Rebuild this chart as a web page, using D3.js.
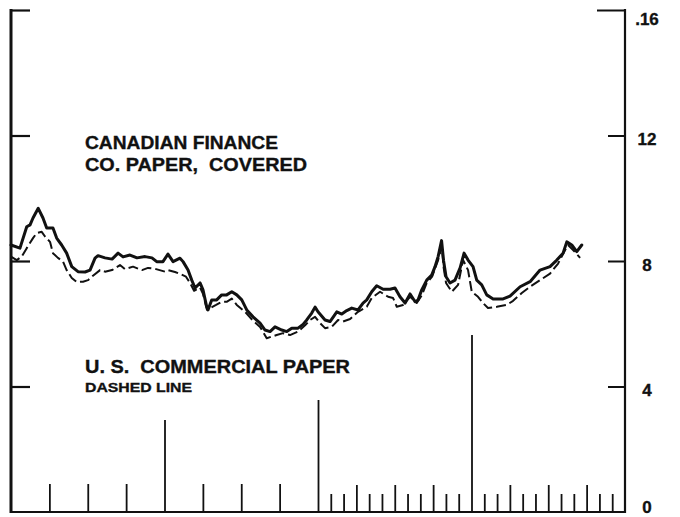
<!DOCTYPE html>
<html>
<head>
<meta charset="utf-8">
<script src="https://cdn.jsdelivr.net/npm/d3@7/dist/d3.min.js"></script>
<style>
  html, body { margin: 0; padding: 0; background: #fff; }
  svg { display: block; }
  text { font-family: "Liberation Sans", Arial, sans-serif; font-weight: bold; fill: #111; stroke: #111; stroke-width: 0.35px; }
</style>
</head>
<body>
<svg id="chart" width="680" height="517"></svg>
<script>
// ---- DATA (time in months from start of chart, rate in percent) ----
const canadianMonths = [0,0.70,1.23,1.49,1.72,2.13,2.50,2.79,3.28,3.57,3.96,4.35,4.75,5.24,5.79,6.18,6.57,6.80,7.35,7.90,8.37,8.76,9.30,9.85,10.48,11.02,11.39,11.88,12.27,12.67,13.21,13.45,13.84,14.13,14.39,14.78,15.01,15.30,15.40,15.69,16.08,16.47,16.86,17.26,17.65,18.04,18.43,18.92,19.47,19.86,20.25,20.64,21.17,21.56,21.95,22.44,22.83,23.12,23.51,23.77,24.00,24.55,24.94,25.47,25.86,26.25,26.64,27.13,27.52,27.81,28.20,28.59,29.09,29.63,30.02,30.41,30.81,31.20,31.59,31.82,32.11,32.50,32.89,33.15,33.39,33.66,33.82,34.01,34.32,34.71,35.11,35.42,35.73,36.12,36.41,36.80,37.19,37.69,38.47,39.01,39.80,40.58,41.36,42.14,42.67,43.16,43.45,43.84,44.23,44.62];
const canadianRates  = [8.51,8.41,9.09,9.15,9.37,9.68,9.37,9.05,9.05,8.73,8.51,8.25,7.82,7.66,7.65,7.71,8.09,8.17,8.10,8.06,8.25,8.13,8.19,8.10,8.14,8.10,7.98,7.98,8.22,7.98,8.09,7.98,7.71,7.39,7.14,7.30,7.08,6.54,6.44,6.76,6.76,6.92,6.92,7.02,6.92,6.76,6.44,6.22,6.02,5.80,5.75,5.90,5.80,5.75,5.86,5.86,5.98,6.12,6.34,6.53,6.38,6.12,6.07,6.38,6.31,6.42,6.50,6.44,6.66,6.76,7.02,7.21,7.10,7.10,7.14,6.86,6.66,6.95,6.70,6.76,7.08,7.39,7.55,7.82,8.14,8.65,8.00,7.50,7.30,7.39,7.78,8.25,8.03,7.82,7.39,7.24,6.92,6.79,6.79,6.88,7.18,7.34,7.71,7.82,8.03,8.25,8.61,8.51,8.30,8.51];

const usMonths = [0,0.45,0.84,1.23,1.72,2.01,2.40,2.66,3.05,3.28,3.67,4.07,4.35,4.75,5.14,5.63,6.02,6.41,6.96,7.35,7.90,8.52,8.91,9.54,10.24,10.71,11.26,12.04,12.27,12.82,13.21,13.68,14.00,14.31,14.78,15.01,15.32,15.56,16.03,16.47,16.86,17.26,17.65,18.30,18.92,19.47,19.99,20.77,21.27,21.81,22.44,22.99,23.38,23.77,24.16,24.55,25.07,25.57,25.96,26.51,27.13,27.81,28.20,28.85,29.48,29.87,30.16,30.65,31.20,31.72,32.11,32.50,32.92,33.39,33.68,33.82,34.01,34.46,34.95,35.34,35.73,36.02,36.51,36.90,37.29,37.98,38.76,39.25,39.93,40.58,41.36,42.14,42.77,43.32,43.55,43.94,44.49];
const usRates  = [8.14,8.03,8.14,8.41,8.73,8.89,8.93,8.78,8.61,8.25,8.10,7.98,7.71,7.46,7.33,7.34,7.39,7.53,7.71,7.66,7.71,7.87,7.74,7.82,7.71,7.78,7.75,7.66,7.71,7.65,7.59,7.50,7.30,7.05,7.15,6.95,6.45,6.50,6.60,6.70,6.70,6.80,6.60,6.38,6.10,5.90,5.54,5.64,5.70,5.64,5.75,5.95,6.12,6.22,6.02,5.86,5.90,6.12,6.07,6.15,6.38,6.54,6.82,7.02,6.86,6.82,6.54,6.60,6.86,6.66,6.90,7.30,7.50,8.03,8.46,7.80,7.30,7.02,7.24,8.03,7.71,7.02,6.86,6.66,6.50,6.54,6.60,6.73,6.98,7.18,7.39,7.60,7.92,8.35,8.51,8.35,8.10];

const rateTicks = [0, 4, 8, 12, 16];
const rateTickLabels = ["0", "4", "8", "12", ".16"];
const yearMonths = [12, 24, 36];
const quarterMonths = [3, 6, 9, 15, 18, 21];
const monthMonths = d3.range(25, 48).filter(m => m !== 36);

const labelCanadian = ["CANADIAN FINANCE", "CO. PAPER,  COVERED"];
const labelUS = "U. S.  COMMERCIAL PAPER";
const labelUSNote = "DASHED LINE";

// ---- LAYOUT ----
const svg = d3.select("#chart");
const x = d3.scaleLinear().domain([0, 48]).range([11, 625]);
const y = d3.scaleLinear().domain([0, 16]).range([512, 10]);

// Left axis (thick), ticks inward
const leftAxis = d3.axisLeft(y).tickValues([4, 8, 12, 16]).tickSize(-19).tickFormat("");
const gL = svg.append("g").attr("transform", `translate(${x(0)},0)`).call(leftAxis);
gL.select(".domain").remove();
gL.selectAll(".tick line").attr("stroke", "#111").attr("stroke-width", 2.2);
svg.append("line").attr("x1", x(0)).attr("x2", x(0)).attr("y1", y(16) - 1).attr("y2", y(0) + 1)
  .attr("stroke", "#111").attr("stroke-width", 3);

// Right axis with labels to the right, ticks inward
const rightAxis = d3.axisRight(y).tickValues(rateTicks)
  .tickSize(-17).tickPadding(22)
  .tickFormat(d => rateTickLabels[rateTicks.indexOf(d)]);
const gR = svg.append("g").attr("transform", `translate(${x(48)},0)`).call(rightAxis);
gR.select(".domain").remove();
gR.selectAll(".tick line").attr("stroke", "#111").attr("stroke-width", 2)
  .attr("x2", d => d === 16 ? -28 : (d === 0 ? 0 : -17));
gR.selectAll(".tick text")
  .attr("text-anchor", "middle")
  .attr("dy", d => d === 16 ? "0.85em" : (d === 0 ? "0.05em" : "0.55em"))
  .attr("x", 22)
  .style("font-size", "17px")
  .style("font-family", "'Liberation Sans', Arial, sans-serif")
  .style("font-weight", "bold")
  .attr("fill", "#111");
svg.append("line").attr("x1", x(48)).attr("x2", x(48)).attr("y1", y(16) - 1).attr("y2", y(0) + 1)
  .attr("stroke", "#111").attr("stroke-width", 2.2);

// Bottom baseline and time ticks
svg.append("line").attr("x1", x(0)).attr("x2", x(48)).attr("y1", y(0)).attr("y2", y(0))
  .attr("stroke", "#111").attr("stroke-width", 2.2);
const tickLen = m => {
  if (m === 12) return 92;
  if (m === 24) return 112;
  if (m === 36) return 177;
  if (m < 24) return 28;
  return (m % 3 === 0) ? 27 : 18;
};
const allTickMonths = [...quarterMonths, ...yearMonths, ...monthMonths].sort((a, b) => a - b);
const bottomAxis = d3.axisBottom(x).tickValues(allTickMonths).tickFormat("");
const gB = svg.append("g").attr("transform", `translate(0,${y(0)})`).call(bottomAxis);
gB.select(".domain").remove();
gB.selectAll(".tick line").attr("stroke", "#111").attr("stroke-width", 1.8)
  .attr("y1", 0).attr("y2", d => -tickLen(d));

// ---- SERIES ----
const line = d3.line().x(d => x(d[0])).y(d => y(d[1])).curve(d3.curveLinear);
const usData = usMonths.map((m, i) => [m, usRates[i]]);
const caData = canadianMonths.map((m, i) => [m, canadianRates[i]]);

svg.append("path").datum(usData).attr("d", line)
  .attr("fill", "none").attr("stroke", "#111").attr("stroke-width", 2)
  .attr("stroke-dasharray", "10,4").attr("stroke-linejoin", "round");
svg.append("path").datum(caData).attr("d", line)
  .attr("fill", "none").attr("stroke", "#111").attr("stroke-width", 3)
  .attr("stroke-linejoin", "round").attr("stroke-linecap", "round");

// ---- LABELS ----
svg.append("text").attr("x", 85).attr("y", 149).text(labelCanadian[0])
  .style("font-size", "19px").attr("textLength", 193).attr("lengthAdjust", "spacingAndGlyphs");
svg.append("text").attr("x", 85).attr("y", 171).text(labelCanadian[1])
  .style("font-size", "19px").attr("textLength", 222).attr("lengthAdjust", "spacingAndGlyphs")
  .style("white-space", "pre");
svg.append("text").attr("x", 85).attr("y", 373).text(labelUS)
  .style("font-size", "19px").attr("textLength", 265).attr("lengthAdjust", "spacingAndGlyphs")
  .style("white-space", "pre");
svg.append("text").attr("x", 85).attr("y", 392).text(labelUSNote)
  .style("font-size", "13.5px").attr("textLength", 107).attr("lengthAdjust", "spacingAndGlyphs");
</script>
</body>
</html>
